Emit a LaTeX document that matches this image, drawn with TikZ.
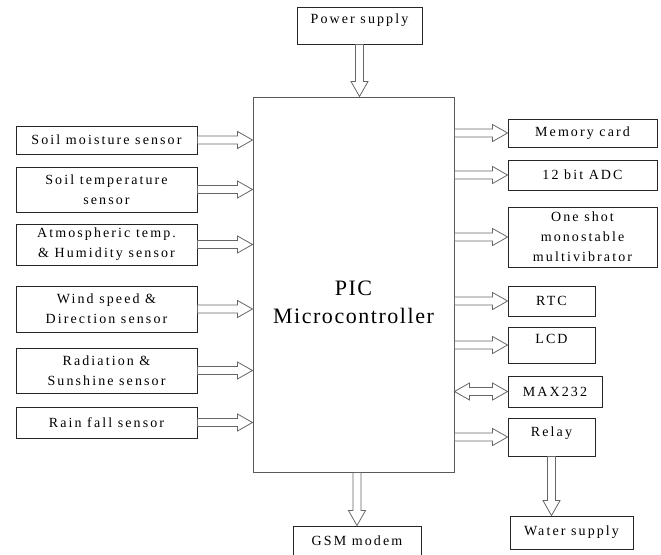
\documentclass[tikz,border=0pt]{standalone}
\usepackage{fontspec}
\setmainfont{Liberation Serif}[LetterSpace=15]
\newfontfamily\picfont{Liberation Serif}[LetterSpace=7]
\usetikzlibrary{calc}

% hollow block arrows
\newcommand{\rarrow}[2]{%
  \draw[arrowline] ($(#1)+(0,-4)$) -- ($(#2)+(-15,-4)$) -- ($(#2)+(-15,-8.5)$) -- (#2)
    -- ($(#2)+(-15,8.5)$) -- ($(#2)+(-15,4)$) -- ($(#1)+(0,4)$) -- cycle;}
\newcommand{\darrow}[2]{%
  \draw[arrowline] ($(#1)+(-4,0)$) -- ($(#2)+(-4,-15)$) -- ($(#2)+(-8.5,-15)$) -- (#2)
    -- ($(#2)+(8.5,-15)$) -- ($(#2)+(4,-15)$) -- ($(#1)+(4,0)$) -- cycle;}
\newcommand{\twoarrow}[2]{%
  \draw[arrowline] (#1) -- ($(#1)+(15,-8.5)$) -- ($(#1)+(15,-4)$) -- ($(#2)+(-15,-4)$)
    -- ($(#2)+(-15,-8.5)$) -- (#2) -- ($(#2)+(-15,8.5)$) -- ($(#2)+(-15,4)$)
    -- ($(#1)+(15,4)$) -- ($(#1)+(15,8.5)$) -- cycle;}

\begin{document}
\begin{tikzpicture}[x=1pt,y=-1pt,
    box/.style={draw=black!85,line width=0.9pt,align=center,inner sep=2pt,
      font=\fontsize{14}{20}\selectfont},
    sensor/.style={box,minimum width=181pt},
    unit/.style={box,minimum width=149pt},
    small/.style={box,minimum width=87pt},
    raised/.style={text depth=#1},
    arrowline/.style={draw=black!60,line width=0.8pt}]
    \useasboundingbox (0,0) rectangle (661,554);
    \clip (0,0) rectangle (661,554);

    % Controller
    \node[draw=black!65,line width=1pt,minimum width=201pt,minimum height=375pt] (pic) at (353.5,284.5) {};
    \node[font=\picfont\fontsize{22}{28}\selectfont,align=center] (pictext) at (353.5,302) {PIC\\Microcontroller};

    % Supply and modem
    \node[box,raised=13pt,minimum width=125pt,minimum height=37pt] (power) at (359.5,25.5) {Power supply};
    \node[box,minimum width=128pt,minimum height=30pt] (gsm) at (357,541) {GSM modem};

    % Sensors
    \node[sensor,minimum height=28pt] (moist) at (106.5,140) {Soil moisture sensor};
    \node[sensor,minimum height=45pt] (soiltemp) at (106.5,189.5) {Soil temperature\\sensor};
    \node[sensor,minimum height=41pt] (atmos) at (106.5,244.5) {Atmospheric temp.\\\& Humidity sensor};
    \node[sensor,minimum height=46pt] (wind) at (106.5,309) {Wind speed \&\\Direction sensor};
    \node[sensor,minimum height=45pt] (radiation) at (106.5,370.5) {Radiation \&\\Sunshine sensor};
    \node[sensor,minimum height=31pt] (rain) at (106.5,422.5) {Rain fall sensor};

    % Peripherals
    \node[unit,minimum height=28pt] (memory) at (582.5,133) {Memory card};
    \node[unit,minimum height=30pt] (adc) at (582.5,175) {12 bit ADC};
    \node[unit,minimum height=60pt] (oneshot) at (582.5,237) {One shot\\monostable\\multivibrator};
    \node[small,minimum height=30pt] (rtc) at (551.5,301) {RTC};
    \node[small,raised=12pt,minimum height=36pt] (lcd) at (551.5,345) {LCD};
    \node[box,minimum width=94pt,minimum height=31pt] (max) at (555,391.5) {MAX232};
    \node[small,raised=10pt,minimum height=38pt] (relay) at (551.5,437) {Relay};
    \node[box,minimum width=123pt,minimum height=33pt] (water) at (571.5,532.5) {Water supply};

    % Arrows
    \darrow{power.south}{power.south |- pic.north}
    \darrow{gsm.north |- pic.south}{gsm.north}
    \darrow{relay.south}{relay.south |- water.north}
    \foreach \s in {moist,soiltemp,atmos,wind,radiation,rain}
        \rarrow{\s.east}{pic.west |- \s.east};
    \foreach \u in {memory,adc,oneshot,rtc,lcd,relay}
        \rarrow{pic.east |- \u.west}{\u.west};
    \twoarrow{pic.east |- max.west}{max.west}
\end{tikzpicture}
\end{document}
